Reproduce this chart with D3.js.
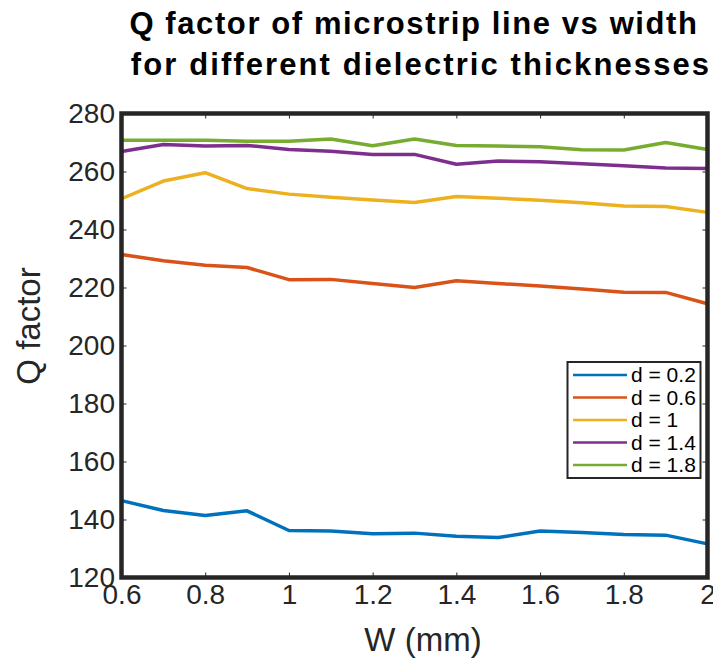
<!DOCTYPE html>
<html>
<head>
<meta charset="utf-8">
<script src="https://cdn.jsdelivr.net/npm/d3@7"></script>
<style>
  body { margin: 0; background: #fff; }
  svg { font-family: "Liberation Sans", Arial, Helvetica, sans-serif; }
</style>
</head>
<body>
<svg id="chart" width="713" height="660"></svg>
<script>
// widths W (mm)
var widths = [0.6, 0.7, 0.8, 0.9, 1.0, 1.1, 1.2, 1.3, 1.4, 1.5, 1.6, 1.7, 1.8, 1.9, 2.0];

// Q factor per dielectric thickness
var q_d02 = [146.5, 143.1, 141.4, 143.0, 136.2, 136.0, 135.1, 135.3, 134.2, 133.8, 136.0, 135.5, 134.8, 134.6, 131.6];
var q_d06 = [231.4, 229.2, 227.7, 226.9, 222.7, 222.8, 221.4, 220.0, 222.3, 221.4, 220.5, 219.5, 218.4, 218.3, 214.4];
var q_d1  = [250.6, 256.7, 259.6, 254.1, 252.2, 251.1, 250.2, 249.3, 251.4, 250.8, 250.1, 249.2, 248.1, 247.9, 245.9];
var q_d14 = [266.9, 269.3, 268.8, 269.0, 267.6, 267.0, 265.9, 265.9, 262.5, 263.6, 263.4, 262.7, 262.0, 261.2, 261.0];
var q_d18 = [270.8, 270.8, 270.8, 270.4, 270.4, 271.2, 268.9, 271.2, 269.0, 268.8, 268.5, 267.5, 267.4, 270.0, 267.6];

var seriesNames = ["d = 0.2", "d = 0.6", "d = 1", "d = 1.4", "d = 1.8"];
var seriesValues = [q_d02, q_d06, q_d1, q_d14, q_d18];
var colors = ["#0072BD", "#D95319", "#EDB120", "#7E2F8E", "#77AC30"];

var xTicks = [0.6, 0.8, 1, 1.2, 1.4, 1.6, 1.8, 2];
var yTicks = [120, 140, 160, 180, 200, 220, 240, 260, 280];

// plot box
var plotLeft = 121.5, plotRight = 707.5, plotTop = 113.5, plotBottom = 577.5;
var axisColor = "#262626";

var svg = d3.select("#chart");

var x = d3.scaleLinear().domain([0.6, 2]).range([plotLeft, plotRight]);
var y = d3.scaleLinear().domain([120, 280]).range([plotBottom, plotTop]);

// lines
var line = d3.line()
	.x(function(d, i) { return x(widths[i]); })
	.y(function(d) { return y(d); });

svg.append("g").selectAll("path")
	.data(seriesValues)
	.enter().append("path")
	.attr("d", line)
	.attr("fill", "none")
	.attr("stroke", function(d, i) { return colors[i]; })
	.attr("stroke-width", 3.5)
	.attr("stroke-linejoin", "round");

// axes, ticks pointing inward
function styleAxis(g) {
	g.select(".domain").remove();
	g.selectAll(".tick line").attr("stroke", axisColor).attr("stroke-width", 1);
	g.selectAll(".tick text").attr("fill", axisColor).style("font-size", "28px");
}

var fmt = d3.format("");

svg.append("g")
	.attr("transform", "translate(0," + plotBottom + ")")
	.call(d3.axisBottom(x).tickValues(xTicks).tickFormat(fmt).tickSize(-5).tickPadding(7))
	.call(styleAxis);

svg.append("g")
	.attr("transform", "translate(0," + plotTop + ")")
	.call(d3.axisTop(x).tickValues(xTicks).tickSize(-5).tickFormat(""))
	.call(styleAxis);

svg.append("g")
	.attr("transform", "translate(" + plotLeft + ",0)")
	.call(d3.axisLeft(y).tickValues(yTicks).tickFormat(fmt).tickSize(-5).tickPadding(6.5))
	.call(styleAxis);

svg.append("g")
	.attr("transform", "translate(" + plotRight + ",0)")
	.call(d3.axisRight(y).tickValues(yTicks).tickSize(-5).tickFormat(""))
	.call(styleAxis);

// thick box
svg.append("rect")
	.attr("x", plotLeft)
	.attr("y", plotTop)
	.attr("width", plotRight - plotLeft)
	.attr("height", plotBottom - plotTop)
	.attr("fill", "none")
	.attr("stroke", axisColor)
	.attr("stroke-width", 4.5);

// title
var title = svg.append("text")
	.attr("text-anchor", "middle")
	.attr("fill", "#000")
	.style("font-size", "31px")
	.style("font-weight", "bold")
	.style("letter-spacing", "1.6px");
title.append("tspan").attr("x", 414).attr("y", 34).text("Q factor of microstrip line vs width");
title.append("tspan").attr("x", 421).attr("y", 75).attr("letter-spacing", "2.1px").text("for different dielectric thicknesses");

// axis labels
svg.append("text")
	.attr("x", 423)
	.attr("y", 651)
	.attr("text-anchor", "middle")
	.attr("fill", axisColor)
	.style("font-size", "33px")
	.text("W (mm)");

svg.append("text")
	.attr("transform", "translate(40,326) rotate(-90)")
	.attr("text-anchor", "middle")
	.attr("fill", axisColor)
	.style("font-size", "33px")
	.text("Q factor");

// legend
var legend = svg.append("g");
legend.append("rect")
	.attr("x", 567.5)
	.attr("y", 362)
	.attr("width", 133)
	.attr("height", 116)
	.attr("fill", "#fff")
	.attr("stroke", axisColor)
	.attr("stroke-width", 2);

var item = legend.selectAll(".item")
	.data(seriesNames)
	.enter().append("g")
	.attr("class", "item")
	.attr("transform", function(d, i) { return "translate(0," + (375 + i * 22.5) + ")"; });

item.append("line")
	.attr("x1", 573)
	.attr("x2", 627)
	.attr("stroke", function(d, i) { return colors[i]; })
	.attr("stroke-width", 2.5);

item.append("text")
	.attr("x", 631)
	.attr("dy", "0.35em")
	.attr("fill", "#000")
	.style("font-size", "21px")
	.text(function(d) { return d; });
</script>
</body>
</html>
